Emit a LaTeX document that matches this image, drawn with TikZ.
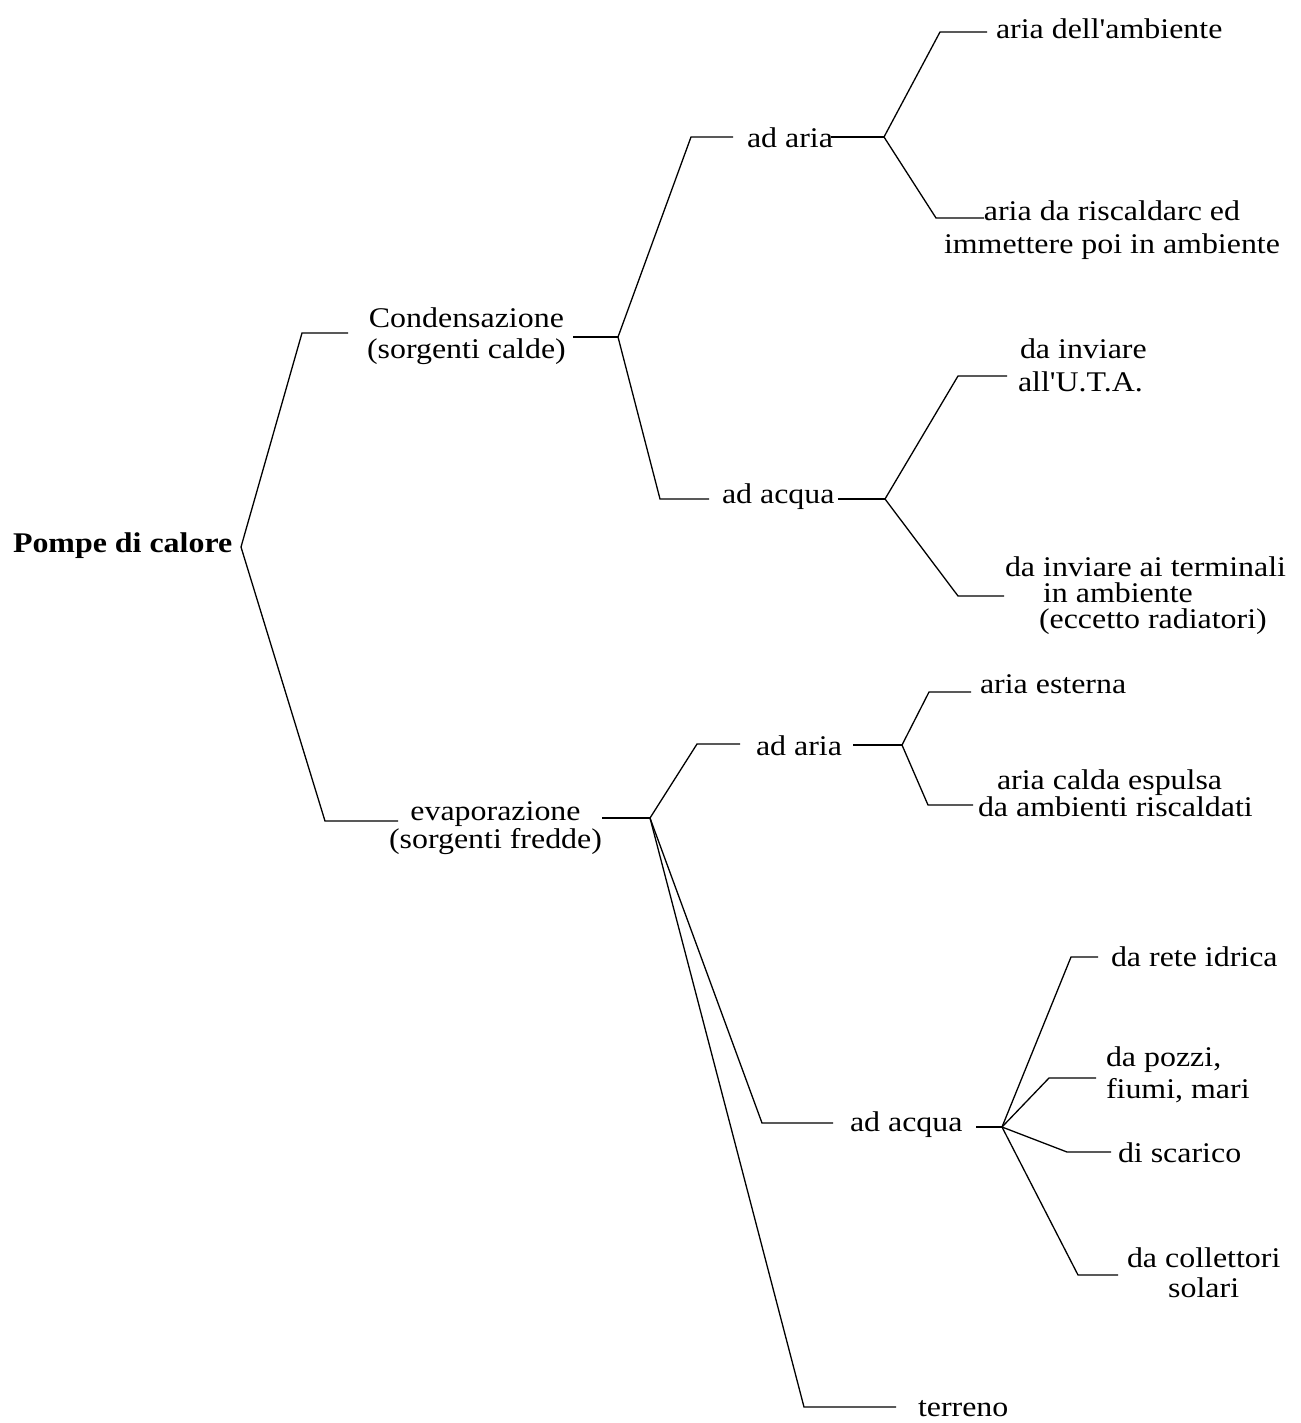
\documentclass[tikz,border=0pt]{standalone}
\usepackage{fontspec}
\setmainfont[FakeStretch=1.12, Ligatures=TeXOff]{Liberation Serif}
\newcommand\fsz[1]{\fontsize{28.5}{#1}\selectfont}
\begin{document}
\begin{tikzpicture}[x=1pt,y=-1pt,
  lbl/.style={inner sep=0pt, outer sep=0pt, anchor=base west},
  conn/.style={line width=1.3pt, line join=miter}]
\useasboundingbox (0,0) rectangle (1300,1423);
% ---------- text nodes (base = baseline of last line) ----------
\node[lbl, font=\bfseries\fsz{31}] (root) at (13,552) {Pompe di calore};
\node[lbl, align=center, font=\fsz{31}] (cond) at (367,358) {Condensazione\\(sorgenti calde)};
\node[lbl, align=center, font=\fsz{26}] (evap) at (389,848) {evaporazione\\(sorgenti fredde)};
\node[lbl, font=\fsz{31}] (aria1) at (747,148) {ad aria};
\node[lbl, font=\fsz{31}] (acqua1) at (722,503) {ad acqua};
\node[lbl, font=\fsz{31}] (amb) at (996,39) {aria dell'ambiente};
\node[lbl, align=center, font=\fsz{33}] (risc) at (944,254) {aria da riscaldarc ed\\immettere poi in ambiente};
\node[lbl, align=left, font=\fsz{33}] (uta) at (1018,391) {\hspace*{2pt}da inviare\\all'U.T.A.};
\node[lbl, align=left, font=\fsz{26}] (term) at (1005,628) {da inviare ai terminali\\\hspace*{38pt}in ambiente\\\hspace*{34pt}(eccetto radiatori)};
\node[lbl, font=\fsz{31}] (aria2) at (756,755) {ad aria};
\node[lbl, font=\fsz{31}] (est) at (980,693) {aria esterna};
\node[lbl, align=left, font=\fsz{23}] (calda) at (978,816) {\hspace*{19pt}aria calda espulsa\\da ambienti riscaldati};
\node[lbl, font=\fsz{31}] (acqua2) at (850,1131) {ad acqua};
\node[lbl, font=\fsz{31}] (rete) at (1111,966) {da rete idrica};
\node[lbl, align=left, font=\fsz{32}] (pozzi) at (1106,1098) {da pozzi,\\fiumi, mari};
\node[lbl, font=\fsz{31}] (scar) at (1118,1162) {di scarico};
\node[lbl, align=center, font=\fsz{30}] (coll) at (1127,1297) {da collettori\\solari};
\node[lbl, font=\fsz{31}] (terr) at (918,1416) {terreno};
% ---------- junctions, corners, ends ----------
\coordinate (j0) at (241,547);
\coordinate (c01) at (302,333);  \coordinate (e01) at (348,333);
\coordinate (c02) at (325,821);  \coordinate (e02) at (398,821);
\coordinate (s1) at (573,337);   \coordinate (j1) at (618,337);
\coordinate (c11) at (691,137);  \coordinate (e11) at (733,137);
\coordinate (c12) at (660,499);  \coordinate (e12) at (709,499);
\coordinate (s2) at (831,137);   \coordinate (j2) at (884,137);
\coordinate (c21) at (940,32);   \coordinate (e21) at (987,32);
\coordinate (c22) at (936,218);  \coordinate (e22) at (984,218);
\coordinate (s3) at (838,499);   \coordinate (j3) at (885,499);
\coordinate (c31) at (958,376);  \coordinate (e31) at (1007,376);
\coordinate (c32) at (958,596);  \coordinate (e32) at (1004,596);
\coordinate (s4) at (602,818);   \coordinate (j4) at (650,818);
\coordinate (c41) at (697,744);  \coordinate (e41) at (740,744);
\coordinate (c42) at (762,1123); \coordinate (e42) at (833,1123);
\coordinate (c43) at (804,1407); \coordinate (e43) at (896,1407);
\coordinate (s5) at (853,745);   \coordinate (j5) at (902,745);
\coordinate (c51) at (929,692);  \coordinate (e51) at (971,692);
\coordinate (c52) at (928,805);  \coordinate (e52) at (973,805);
\coordinate (s6) at (976,1127);  \coordinate (j6) at (1002,1127);
\coordinate (c61) at (1071,957); \coordinate (e61) at (1098,957);
\coordinate (c62) at (1049,1078);\coordinate (e62) at (1096,1078);
\coordinate (c63) at (1067,1152);\coordinate (e63) at (1111,1152);
\coordinate (c64) at (1078,1275);\coordinate (e64) at (1118,1275);
% ---------- connectors ----------
\draw[conn] (e01) -- (c01) -- (j0) -- (c02) -- (e02);
\draw[conn] (s1) -- (j1);
\draw[conn] (e11) -- (c11) -- (j1) -- (c12) -- (e12);
\draw[conn] (s2) -- (j2);
\draw[conn] (e21) -- (c21) -- (j2) -- (c22) -- (e22);
\draw[conn] (s3) -- (j3);
\draw[conn] (e31) -- (c31) -- (j3) -- (c32) -- (e32);
\draw[conn] (s4) -- (j4);
\draw[conn] (e41) -- (c41) -- (j4) -- (c42) -- (e42);
\draw[conn] (j4) -- (c43) -- (e43);
\draw[conn] (s5) -- (j5);
\draw[conn] (e51) -- (c51) -- (j5) -- (c52) -- (e52);
\draw[conn] (s6) -- (j6);
\draw[conn] (j6) -- (c61) -- (e61);
\draw[conn] (j6) -- (c62) -- (e62);
\draw[conn] (j6) -- (c63) -- (e63);
\draw[conn] (j6) -- (c64) -- (e64);
\end{tikzpicture}
\end{document}
